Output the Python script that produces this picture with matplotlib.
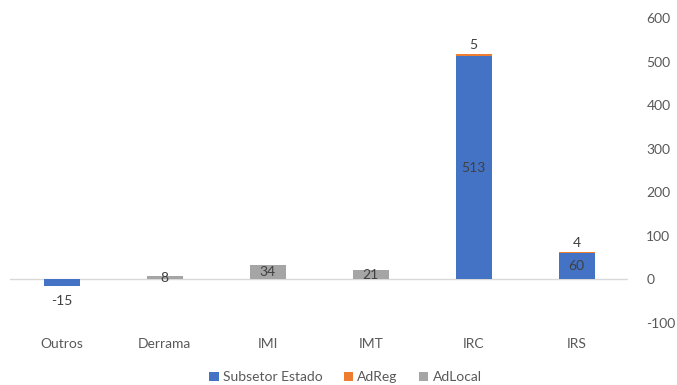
import matplotlib
matplotlib.use("Agg")
import matplotlib.pyplot as plt
import numpy as np

categories = ["Outros", "Derrama", "IMI", "IMT", "IRC", "IRS"]
subsetor_estado = [-15, 0, 0, 0, 513, 60]
adreg = [0, 0, 0, 0, 5, 4]
adlocal = [0, 8, 34, 21, 0, 0]
yticks = [-100, 0, 100, 200, 300, 400, 500, 600]

c_blue, c_orange, c_grey = "#4472C4", "#ED7D31", "#A5A5A5"
txt = "#595959"
plt.rcParams['font.family'] = ['Lato', 'DejaVu Sans']
plt.rcParams['axes.unicode_minus'] = False

fig = plt.figure(figsize=(6.77, 3.85), dpi=100)
ax = fig.add_axes([0.015, 0.161, 0.913, 0.792])

x = np.arange(len(categories))
w = 0.35
est = np.array(subsetor_estado, float)
reg = np.array(adreg, float)
loc = np.array(adlocal, float)
pos_est = np.clip(est, 0, None)

b1 = ax.bar(x, est, w, color=c_blue, label="Subsetor Estado", zorder=3)
b2 = ax.bar(x, reg, w, bottom=pos_est, color=c_orange, label="AdReg", zorder=3)
b3 = ax.bar(x, loc, w, bottom=pos_est + reg, color=c_grey, label="AdLocal", zorder=3)

fs = 10
for i in range(len(categories)):
    if est[i] > 0:
        ax.text(x[i], est[i] / 2, f"{int(est[i])}", ha="center", va="center", fontsize=fs, color="#404040", zorder=4)
    elif est[i] < 0:
        ax.annotate(f"{int(est[i])}", (x[i], est[i]), xytext=(0, -11), textcoords="offset points",
                    ha="center", va="center", fontsize=fs, color="#404040")
    if reg[i] != 0:
        ax.annotate(f"{int(reg[i])}", (x[i], pos_est[i] + reg[i]), xytext=(0, 6), textcoords="offset points",
                    ha="center", va="center", fontsize=fs, color="#404040")
    if loc[i] != 0:
        ax.text(x[i], pos_est[i] + reg[i] + loc[i] / 2, f"{int(loc[i])}", ha="center", va="center",
                fontsize=fs, color="#404040", zorder=4)

ax.axhline(0, color="#D9D9D9", lw=1, zorder=2)
ax.set_ylim(-100, 600)
ax.set_xlim(-0.5, len(categories) - 0.5)
ax.set_yticks(yticks)
ax.yaxis.tick_right()
ax.tick_params(axis="y", length=0, labelsize=fs, labelcolor=txt, pad=13)
for lab in ax.get_yticklabels():
    lab.set_horizontalalignment("left")
ax.set_xticks(x)
ax.set_xticklabels(categories)
ax.tick_params(axis="x", length=0, labelsize=fs, labelcolor=txt, pad=11)
for s in ax.spines.values():
    s.set_visible(False)

fig.legend(handles=[b1, b2, b3], loc="center", bbox_to_anchor=(0.51, 0.02), ncol=3, frameon=False,
           fontsize=fs, labelcolor=txt, handlelength=0.7, handleheight=0.7, handletextpad=0.3, columnspacing=1.5)
fig.savefig("out.png", dpi=100)
